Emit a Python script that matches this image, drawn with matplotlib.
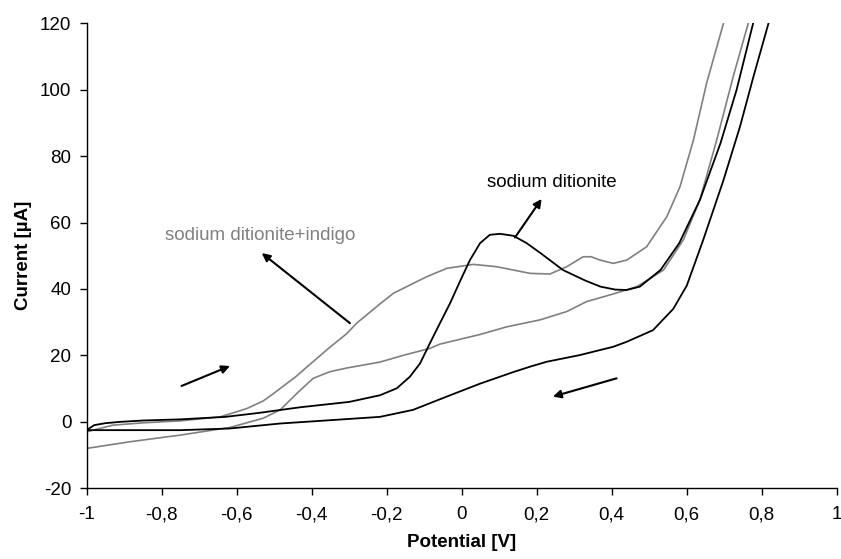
import matplotlib
matplotlib.use("Agg")
import matplotlib.pyplot as plt
from matplotlib.ticker import FuncFormatter

# sodium ditionite, forward (upper) and reverse (lower) branch
black_fwd_v = [-1.0, -0.98, -0.95, -0.91, -0.85, -0.75, -0.63, -0.54, -0.43, -0.3, -0.218, -0.173,
               -0.138, -0.111, -0.085, -0.058, -0.031, -0.005, 0.022, 0.049, 0.075, 0.102, 0.138,
               0.173, 0.21, 0.27, 0.33, 0.37, 0.41, 0.44, 0.475, 0.53, 0.58, 0.635, 0.69, 0.733,
               0.777, 0.79]
black_fwd_i = [-2.5, -1.0, -0.4, 0.0, 0.4, 0.75, 1.5, 2.7, 4.4, 6.0, 8.0, 10.1,
               13.6, 17.6, 23.6, 29.7, 35.7, 42.2, 48.7, 53.8, 56.3, 56.6, 56.0,
               53.8, 50.8, 45.7, 42.5, 40.7, 39.8, 39.7, 40.7, 45.7, 53.8, 66.8, 83.9, 100,
               120, 126]
black_rev_v = [0.84, 0.818, 0.778, 0.742, 0.698, 0.644, 0.60, 0.564, 0.51, 0.44, 0.404, 0.315,
               0.227, 0.182, 0.138, 0.049, -0.04, -0.13, -0.218, -0.35, -0.484, -0.618, -0.75,
               -0.9, -1.0]
black_rev_i = [127, 120, 104, 88.9, 72.8, 54.8, 41.0, 34.0, 27.6, 24.1, 22.6, 20.1,
               18.1, 16.6, 15.0, 11.5, 7.6, 3.6, 1.5, 0.5, -0.5, -2.0, -2.5,
               -2.5, -2.5]

# sodium ditionite + indigo
gray_fwd_v = [-1.0, -0.93, -0.85, -0.75, -0.644, -0.618, -0.573, -0.529, -0.502, -0.44, -0.413,
              -0.351, -0.307, -0.28, -0.218, -0.182, -0.129, -0.093, -0.04, 0.031, 0.093, 0.182,
              0.235, 0.28, 0.324, 0.345, 0.369, 0.404, 0.44, 0.493, 0.547, 0.582, 0.618, 0.653,
              0.698, 0.71]
gray_fwd_i = [-3.0, -1.0, -0.3, 0.3, 1.5, 2.4, 4.0, 6.3, 8.5, 13.8, 16.5,
              22.5, 26.5, 29.7, 35.5, 38.7, 41.7, 43.7, 46.2, 47.4, 46.7, 44.7,
              44.5, 46.7, 49.7, 49.7, 48.7, 47.7, 48.7, 52.7, 61.8, 70.8, 84.9, 102,
              120, 126]
gray_rev_v = [0.78, 0.764, 0.724, 0.68, 0.635, 0.591, 0.538, 0.467, 0.404, 0.333, 0.28, 0.209,
              0.12, 0.049, -0.058, -0.085, -0.15, -0.218, -0.262, -0.307, -0.351, -0.396, -0.44,
              -0.484, -0.529, -0.618, -0.751, -0.885, -1.0]
gray_rev_i = [126, 120, 104, 84.9, 66.8, 54.8, 45.7, 40.7, 38.5, 36.2, 33.2, 30.7,
              28.6, 26.3, 23.4, 22.1, 20.2, 18.0, 17.1, 16.2, 15.1, 13.1, 8.5,
              3.6, 1.1, -1.7, -4.0, -6.0, -8.0]

x_ticks = [-1, -0.8, -0.6, -0.4, -0.2, 0, 0.2, 0.4, 0.6, 0.8, 1]
y_ticks = [-20, 0, 20, 40, 60, 80, 100, 120]

plt.rcParams['font.family'] = ['Liberation Sans', 'DejaVu Sans']
plt.rcParams['axes.unicode_minus'] = False
fs = 13.5
gray = '#808080'

fig = plt.figure(figsize=(8.41, 5.59), dpi=100)
ax = fig.add_axes([0.103, 0.1265, 0.892, 0.832])

ax.plot(gray_fwd_v, gray_fwd_i, color=gray, lw=1.2)
ax.plot(gray_rev_v, gray_rev_i, color=gray, lw=1.2)
ax.plot(black_fwd_v, black_fwd_i, color='black', lw=1.3)
ax.plot(black_rev_v, black_rev_i, color='black', lw=1.3)

ax.set_xlim(-1, 1)
ax.set_ylim(-20, 120)
ax.set_xticks(x_ticks)
ax.set_yticks(y_ticks)
ax.xaxis.set_major_formatter(FuncFormatter(lambda v, p: ('%g' % round(v, 2)).replace('.', ',')))
ax.tick_params(direction='out', length=5, width=1, labelsize=fs)
ax.tick_params(axis='y', pad=6)
ax.tick_params(axis='x', pad=8)
for s in ['top', 'right']:
    ax.spines[s].set_visible(False)
for s in ['left', 'bottom']:
    ax.spines[s].set_linewidth(1)

ax.set_xlabel('Potential [V]', fontsize=fs, fontweight='bold', labelpad=8)
ax.set_ylabel('Current [µA]', fontsize=fs, fontweight='bold', labelpad=6)

arrow = dict(arrowstyle='-|>', color='black', lw=1.5, mutation_scale=12, shrinkA=0, shrinkB=0)
ax.text(0.241, 71.9, 'sodium ditionite', fontsize=fs, ha='center', va='center')
ax.annotate('', xy=(0.213, 67.1), xytext=(0.142, 55.5), arrowprops=arrow)
ax.text(-0.538, 56.0, 'sodium ditionite+indigo', fontsize=fs, ha='center', va='center', color=gray)
ax.annotate('', xy=(-0.533, 50.8), xytext=(-0.298, 29.7), arrowprops=arrow)
ax.annotate('', xy=(-0.618, 16.8), xytext=(-0.747, 10.8), arrowprops=arrow)
ax.annotate('', xy=(0.243, 7.6), xytext=(0.413, 13.1), arrowprops=arrow)

fig.savefig('out.png', dpi=100)
